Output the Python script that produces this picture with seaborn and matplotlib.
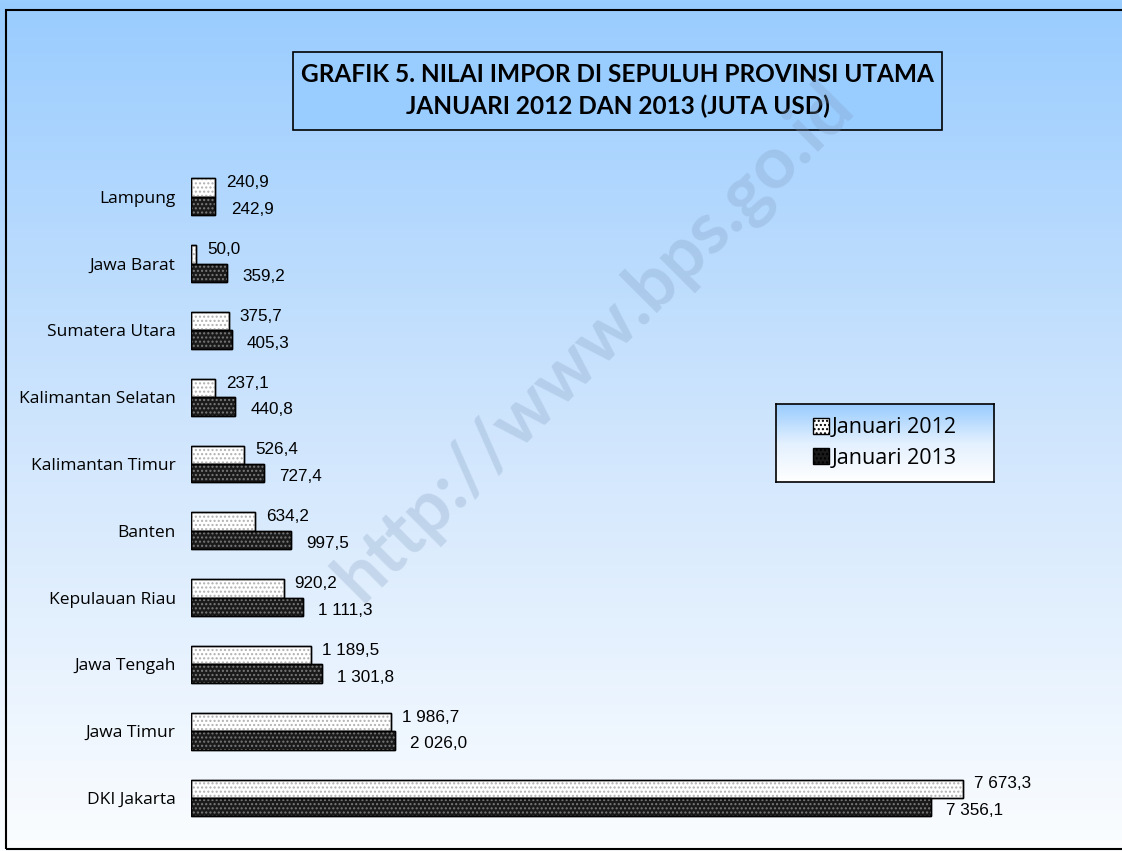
import numpy as np
import pandas as pd
import matplotlib.pyplot as plt
import matplotlib.patches as mpatches
from matplotlib.colors import LinearSegmentedColormap
import seaborn as sns

provinsi = ["Lampung", "Jawa Barat", "Sumatera Utara", "Kalimantan Selatan",
            "Kalimantan Timur", "Banten", "Kepulauan Riau", "Jawa Tengah",
            "Jawa Timur", "DKI Jakarta"]
jan_2012 = [240.9, 50.0, 375.7, 237.1, 526.4, 634.2, 920.2, 1189.5, 1986.7, 7673.3]
jan_2013 = [242.9, 359.2, 405.3, 440.8, 727.4, 997.5, 1111.3, 1301.8, 2026.0, 7356.1]
seri = ["Januari 2012", "Januari 2013"]

df = pd.DataFrame({
    "provinsi": provinsi * 2,
    "nilai": jan_2012 + jan_2013,
    "tahun": [seri[0]] * len(provinsi) + [seri[1]] * len(provinsi),
})


def fmt_id(v):
    # Indonesian style: space as thousands separator, comma decimal
    return f"{v:,.1f}".replace(",", " ").replace(".", ",")


sns.set_theme(style="white")
plt.rcParams["font.family"] = ["Open Sans", "DejaVu Sans"]
plt.rcParams["text.color"] = "black"
plt.rcParams["ytick.color"] = "black"
plt.rcParams["hatch.linewidth"] = 1.0

fills = ["white", "#1a1a1a"]
hatch_col = ["#b0b0b0", "#7a7a7a"]
hatches = ["....", "...."]

fig = plt.figure(figsize=(11.22, 8.51), dpi=100)

# gradient background
bg = fig.add_axes([0, 0, 1, 1], zorder=-2)
grad = LinearSegmentedColormap.from_list("bg", ["#99ccff", "#cfe5fd", "#fbfdff"])
bg.imshow(np.linspace(0, 1, 256).reshape(-1, 1), aspect="auto", cmap=grad,
          extent=[0, 1, 0, 1], origin="upper")
bg.set_axis_off()
fig.patches.append(mpatches.Rectangle((6 / 1122, 2 / 851), 1.2, 839 / 851,
                                      transform=fig.transFigure, fill=False,
                                      edgecolor="black", linewidth=1.5))

ax = fig.add_axes([191 / 1122, 1 - 831.4 / 851, 905 / 1122, 668 / 851])
ax.set_facecolor("none")
sns.barplot(data=df, y="provinsi", x="nilai", hue="tahun", orient="h",
            order=provinsi, hue_order=seri, width=0.55,
            palette=fills, edgecolor="black", linewidth=1.0,
            legend=False, ax=ax)

# dotted texture on top of each bar
for cont, h, hc in zip(ax.containers, hatches, hatch_col):
    for p in cont:
        ax.add_patch(mpatches.Rectangle(p.get_xy(), p.get_width(), p.get_height(),
                                        fill=False, hatch=h, edgecolor=hc,
                                        linewidth=0, zorder=p.get_zorder() + 0.1))
        ax.add_patch(mpatches.Rectangle(p.get_xy(), p.get_width(), p.get_height(),
                                        fill=False, edgecolor="black",
                                        linewidth=1.0, zorder=p.get_zorder() + 0.2))

# value labels
offsets = [(8, 3.5), (11, -2.5)]
for cont, vals, (dx, dy) in zip(ax.containers, [jan_2012, jan_2013], offsets):
    for p, v in zip(cont, vals):
        ax.annotate(fmt_id(v), xy=(p.get_width(), p.get_y() + p.get_height() / 2),
                    xytext=(dx, dy), textcoords="offset points", ha="left",
                    va="center", fontsize=12.3, family="Liberation Sans")

ax.set_xlim(0, 9000)
ax.set_xlabel("")
ax.set_ylabel("")
ax.set_xticks([])
ax.tick_params(axis="y", length=0, pad=11, labelsize=12.5)
for s in ax.spines.values():
    s.set_visible(False)

# legend box with its own gradient
lax = fig.add_axes([776 / 1122, 1 - 482 / 851, 218 / 1122, 78 / 851])
lgrad = LinearSegmentedColormap.from_list("lg", ["#99ccff", "#e3f0fe", "#ffffff"])
lax.imshow(np.linspace(0, 1, 64).reshape(-1, 1), aspect="auto", cmap=lgrad,
           extent=[0, 1, 0, 1], origin="upper")
lax.set_xticks([])
lax.set_yticks([])
for s in lax.spines.values():
    s.set_edgecolor("black")
    s.set_linewidth(1.2)

handles = []
for c, h, hc, l in zip(fills, hatches, hatch_col, seri):
    handles.append(mpatches.Patch(facecolor=c, edgecolor="black", hatch=h, label=l))
leg = lax.legend(handles=handles, loc="center", fontsize=15.5, frameon=False,
                 handlelength=0.75, handleheight=0.75, handletextpad=0.15,
                 labelspacing=0.45, borderpad=0.2)

# title box
fig.patches.append(mpatches.Rectangle((293 / 1122, 1 - 130 / 851), 649 / 1122, 78 / 851,
                                      transform=fig.transFigure, facecolor="#99ccff",
                                      edgecolor="black", linewidth=1.2, zorder=3))
fig.text(617.5 / 1122, 1 - 75 / 851, "GRAFIK 5. NILAI IMPOR DI SEPULUH PROVINSI UTAMA",
         ha="center", va="center", fontsize=17.6, fontweight="bold", family="Lato",
         zorder=4)
fig.text(617.5 / 1122, 1 - 106 / 851, "JANUARI 2012 DAN 2013 (JUTA USD)",
         ha="center", va="center", fontsize=17.6, fontweight="bold", family="Lato",
         zorder=4)

# watermark
fig.text(0.53, 0.598, "http://www.bps.go.id", rotation=45, ha="center",
         va="center", fontsize=52, fontweight="bold", family="Lato",
         color="#7f9bbf", alpha=0.28, zorder=5)

fig.savefig("out.png", dpi=100)
